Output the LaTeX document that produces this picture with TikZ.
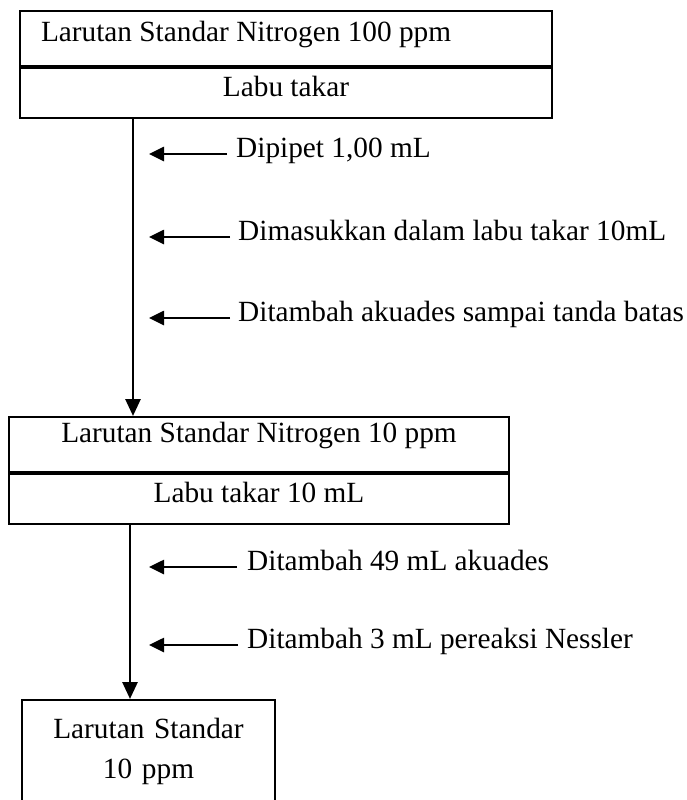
\documentclass[tikz,border=0pt]{standalone}
\usepackage{fontspec}
\setmainfont{Liberation Serif}
\usetikzlibrary{arrows.meta}
\tikzset{
    cell/.style={draw,line width=2pt,inner sep=0pt,text height=0.66em,text depth=0pt},
    note/.style={anchor=west,inner xsep=8pt,inner ysep=0pt,text height=0.66em,text depth=0pt},
    flow/.style={line width=2.8pt,-{Triangle[length=17pt,width=15pt]}},
    hint/.style={line width=2.6pt,-{Triangle[length=15pt,width=14pt]}}
}

\begin{document}
\begin{tikzpicture}[x=1pt,y=-1pt,font=\fontsize{29.3}{40}\selectfont]
        \clip (0,0) rectangle (686,800);
        \coordinate (trunkA) at (133,0);
        \coordinate (trunkB) at (130,0);
        \coordinate (tipcol) at (149,0);
        % boxes
        \node [cell,anchor=north west,minimum width=532pt,minimum height=55pt,
            text width=490pt,inner xsep=21pt,align=flush left] (std100) at (19,10)
            {Larutan Standar Nitrogen 100 ppm};
        \node [cell,anchor=north west,minimum width=532pt,minimum height=50pt]
            (labu100) at (std100.south west) {Labu takar};
        \node [cell,anchor=north west,minimum width=500pt,minimum height=55pt,text depth=10pt]
            (std10) at (8,416) {Larutan Standar Nitrogen 10 ppm};
        \node [cell,anchor=north west,minimum width=500pt,minimum height=50pt]
            (labu10) at (std10.south west) {Labu takar 10 mL};
        \node [cell,anchor=north,align=center,text width=253pt,
            text height=38pt,text depth=80pt] (std10b) at (148.5,699)
            {Larutan Standar\\10 ppm};
        % steps
        \node [note,inner xsep=9pt] (pipet) at (227,154) {Dipipet 1,00 mL};
        \node [note] (masuk) at (230,237) {Dimasukkan dalam labu takar 10mL};
        \node [note] (tambahA) at (230,318) {Ditambah akuades sampai tanda batas};
        \node [note,inner xsep=10pt] (tambahB) at (237,567) {Ditambah 49 mL akuades};
        \node [note,inner xsep=9pt] (tambahC) at (238,645) {Ditambah 3 mL pereaksi Nessler};
        \draw [flow] (trunkA |- labu100.south) -- (trunkA |- std10.north);
        \draw [flow] (trunkB |- labu10.south) -- (trunkB |- std10b.north);
        \foreach \n in {pipet,masuk,tambahA,tambahB,tambahC} {
            \draw [hint] (\n.west) -- (tipcol |- \n.west);
        }
    \end{tikzpicture}
\end{document}
